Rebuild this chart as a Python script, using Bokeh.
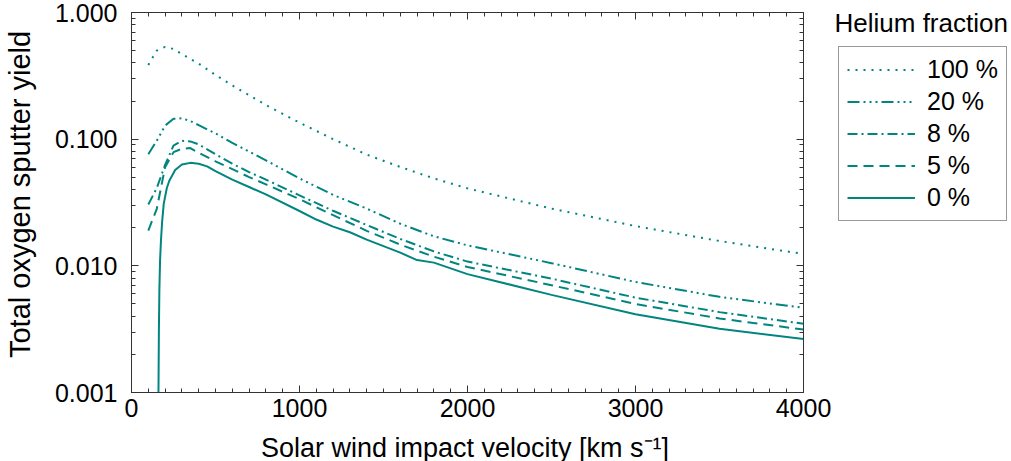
from bokeh.plotting import figure
from bokeh.layouts import row, column
from bokeh.models import (FixedTicker, NumeralTickFormatter, LinearAxis, LogAxis,
                          Legend, LegendItem, Label, Range1d, CustomJSTickFormatter)
from bokeh.embed import file_html
from bokeh.resources import INLINE

# Sputter yield of oxygen versus solar wind impact velocity, per helium fraction
vel_he100 = [100, 150, 200, 250, 300, 350, 400, 500, 600, 700, 800, 1000, 1200, 1400,
             1600, 1800, 2000, 2500, 3000, 3500, 4000]
yield_he100 = [0.385, 0.50, 0.535, 0.515, 0.47, 0.43, 0.395, 0.321, 0.266, 0.222, 0.186,
               0.135, 0.100, 0.0755, 0.0603, 0.049, 0.0409, 0.0283, 0.0206, 0.0157, 0.0124]

vel_he20 = vel_he100
yield_he20 = [0.076, 0.097, 0.128, 0.145, 0.146, 0.139, 0.129, 0.111, 0.0935, 0.0798, 0.068,
              0.049, 0.0363, 0.0283, 0.0215, 0.0171, 0.0145, 0.0105, 0.00746, 0.00569, 0.00466]

vel_he8 = vel_he100
yield_he8 = [0.0305, 0.041, 0.0627, 0.089, 0.097, 0.096, 0.091, 0.076, 0.064, 0.055, 0.048,
             0.036, 0.0272, 0.0210, 0.0163, 0.0130, 0.0108, 0.00792, 0.00561, 0.00431, 0.00349]

vel_he5 = vel_he100
yield_he5 = [0.019, 0.028, 0.060, 0.079, 0.084, 0.085, 0.078, 0.0668, 0.058, 0.0502, 0.044,
             0.0336, 0.0251, 0.0189, 0.0147, 0.0118, 0.0098, 0.00703, 0.0050, 0.00384, 0.00314]

vel_he0 = [160, 163, 166, 170, 175, 182, 192, 210, 225, 260, 300, 350, 400, 450, 500, 600,
           700, 800, 1000, 1100, 1200, 1300, 1400, 1600, 1700, 1800, 2000, 2500, 3000, 3500, 4000]
yield_he0 = [0.0008, 0.003, 0.0065, 0.011, 0.0155, 0.022, 0.031, 0.041, 0.047, 0.057, 0.063,
             0.065, 0.064, 0.061, 0.056, 0.048, 0.0419, 0.0366, 0.0271, 0.0232, 0.0204, 0.0184,
             0.0161, 0.0127, 0.0111, 0.0106, 0.0086, 0.0059, 0.00415, 0.00318, 0.00265]

series_labels = ["100 %", "20 %", "8 %", "5 %", "0 %"]
series_dashes = ["2 6", "12 4 2 4 2 4 2 4", "10 4 2 4", "10 6", "solid"]
x_major = [0, 1000, 2000, 3000, 4000]
y_major = [0.001, 0.01, 0.1, 1.0]

TEAL = "#008580"
FONT = "Liberation Sans"
FS = "25px"
AXIS_COLOR = "#333333"

LEFT, FRAME_W, RIGHT = 130, 672, 30
TOP, FRAME_H, BOTTOM = 12, 380, 36
TOTAL_W, TOTAL_H = 1011, 461
MAIN_W = LEFT + FRAME_W + RIGHT
MAIN_H = TOP + FRAME_H + BOTTOM
LABEL_LIFT = 10  # Label baselines sit this much below the requested y

p = figure(frame_width=FRAME_W, frame_height=FRAME_H, y_axis_type="log",
           x_range=Range1d(0, 4000), y_range=Range1d(0.001, 1.0),
           min_border_left=LEFT, min_border_right=RIGHT, min_border_top=TOP,
           min_border_bottom=BOTTOM, output_backend="svg", toolbar_location=None)
p.grid.visible = False
p.outline_line_color = AXIS_COLOR
p.outline_line_width = 1
p.background_fill_color = "white"
p.border_fill_color = "white"

x_ticker = FixedTicker(ticks=x_major, minor_ticks=list(range(0, 4001, 100)))
y_minor = [k * 10.0 ** e for e in (-3, -2, -1) for k in range(1, 10)]
y_ticker = FixedTicker(ticks=y_major, minor_ticks=y_minor)


def style_axis(ax):
    ax.axis_line_color = AXIS_COLOR
    ax.major_tick_line_color = AXIS_COLOR
    ax.minor_tick_line_color = AXIS_COLOR
    ax.major_tick_in = 7
    ax.major_tick_out = 0
    ax.minor_tick_in = 4
    ax.minor_tick_out = 0
    ax.major_label_text_font = FONT
    ax.major_label_text_font_size = FS
    ax.major_label_text_color = "black"
    ax.axis_label_text_font = FONT
    ax.axis_label_text_font_style = "normal"
    ax.axis_label_text_color = "black"


xa = p.xaxis[0]
xa.ticker = x_ticker
style_axis(xa)
xa.major_label_standoff = 6

ya = p.yaxis[0]
ya.ticker = y_ticker
ya.formatter = NumeralTickFormatter(format="0.000")
style_axis(ya)
ya.axis_label_text_font_size = "29px"
ya.major_label_standoff = 14
ya.axis_label = "\u00a0\u00a0Total oxygen sputter yield"
ya.axis_label_standoff = 16

blank = CustomJSTickFormatter(code="return ''")
top_axis = LinearAxis(ticker=x_ticker, formatter=blank)
style_axis(top_axis)
top_axis.major_label_text_font_size = "1px"
top_axis.major_label_standoff = 0
p.add_layout(top_axis, "above")

right_axis = LogAxis(ticker=y_ticker, formatter=blank)
style_axis(right_axis)
right_axis.major_label_text_font_size = "1px"
right_axis.major_label_standoff = 0
p.add_layout(right_axis, "right")

curves = [(vel_he100, yield_he100), (vel_he20, yield_he20), (vel_he8, yield_he8),
          (vel_he5, yield_he5), (vel_he0, yield_he0)]
for (vx, vy), dash in zip(curves, series_dashes):
    p.line(vx, vy, line_color=TEAL, line_width=2, line_dash=dash)

# Key panel to the right of the plot: title above a boxed legend.
# Its frame lines up with the main frame (y from TOP to TOP + FRAME_H).
SIDE_W = TOTAL_W - MAIN_W
side = figure(width=SIDE_W, height=MAIN_H, x_range=Range1d(0, SIDE_W),
              y_range=Range1d(0, FRAME_H), min_border=0,
              x_axis_location=None, y_axis_location=None,
              output_backend="svg", toolbar_location=None)
side.grid.visible = False
side.outline_line_color = None
side.background_fill_color = "white"
side.border_fill_color = "white"

key_renderers = [side.line(x=[-20, -10], y=[-20, -10], line_color=TEAL, line_width=2,
                           line_dash=dash) for dash in series_dashes]
legend = Legend(items=[LegendItem(label=lab, renderers=[r])
                       for lab, r in zip(series_labels, key_renderers)],
                location=(837 - MAIN_W, TOP + FRAME_H - 221), margin=0, padding=8,
                spacing=3, glyph_width=68, glyph_height=25, label_height=25,
                label_standoff=12, label_text_font=FONT, label_text_font_size=FS,
                label_text_color="black",
                border_line_color=AXIS_COLOR, border_line_width=1,
                background_fill_color="white", background_fill_alpha=1.0)
side.add_layout(legend)
side.add_layout(Label(x=833 - MAIN_W, y=TOP + FRAME_H - 32 + LABEL_LIFT, x_units="screen",
                      y_units="screen", text="Helium fraction", text_font=FONT,
                      text_font_size="26px", text_baseline="alphabetic",
                      text_color="black"))

# Horizontal axis title in its own strip under the plot
XT_H = TOTAL_H - MAIN_H
xtitle = figure(width=TOTAL_W, height=XT_H, x_range=Range1d(0, FRAME_W),
                y_range=Range1d(0, XT_H), min_border_left=LEFT,
                min_border_right=TOTAL_W - LEFT - FRAME_W, min_border_top=0,
                min_border_bottom=0, x_axis_location=None, y_axis_location=None,
                output_backend="svg", toolbar_location=None)
xtitle.grid.visible = False
xtitle.outline_line_color = None
xtitle.background_fill_color = "white"
xtitle.border_fill_color = "white"
xtitle.add_layout(Label(x=464.5 - LEFT, y=TOTAL_H - 457 + LABEL_LIFT, x_units="screen",
                        y_units="screen",
                        text="Solar wind impact velocity [km s\u207b\u00b9]",
                        text_font=FONT, text_font_size="27px", text_align="center",
                        text_baseline="alphabetic", text_color="black"))

layout = column(row(p, side), xtitle)
open("out.html", "w").write(file_html(layout, INLINE))
